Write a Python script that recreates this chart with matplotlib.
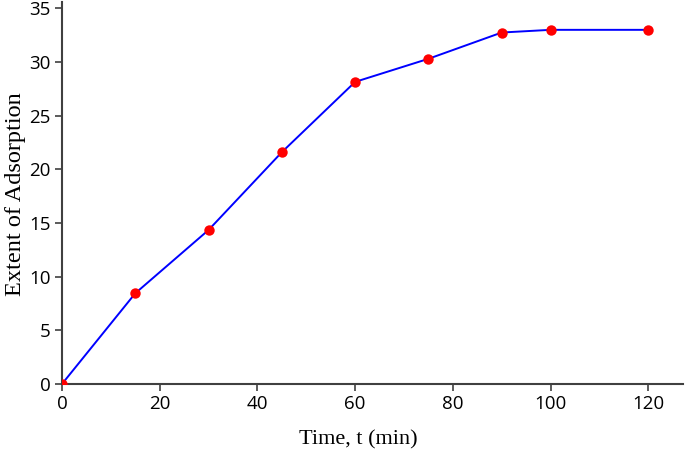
import matplotlib
matplotlib.use("Agg")
import matplotlib.pyplot as plt

# 数据
time_min = [0, 15, 30, 45, 60, 75, 90, 100, 120]
extent = [0, 8.45, 14.35, 21.6, 28.15, 30.3, 32.75, 33.0, 33.0]
x_ticks = [0, 20, 40, 60, 80, 100, 120]
y_ticks = [0, 5, 10, 15, 20, 25, 30, 35]

fig = plt.figure(figsize=(6.85, 4.5), dpi=100)
ax = fig.add_axes([0.0905, 0.1467, 0.9065, 0.849])

ax.plot(time_min, extent, color="#0000ff", linewidth=1.4, zorder=2)
ax.plot(time_min, extent, linestyle="none", marker="o", markersize=7.5,
        color="#ff0000", markeredgewidth=0, zorder=3)

ax.set_xlim(0, 127.1)
ax.set_ylim(0, 35.6)
ax.set_xticks(x_ticks)
ax.set_yticks(y_ticks)

for side in ["top", "right"]:
    ax.spines[side].set_visible(False)
for side in ["left", "bottom"]:
    ax.spines[side].set_color("#404040")
    ax.spines[side].set_linewidth(1.5)

ax.tick_params(direction="out", length=5, width=1.2, color="#404040",
               labelsize=13.5, pad=3)
for lbl in ax.get_xticklabels() + ax.get_yticklabels():
    lbl.set_family("Open Sans")

ax.set_xlabel("Time, t (min)", family="Liberation Serif", fontsize=16)
ax.set_ylabel("Extent of Adsorption", family="Liberation Serif", fontsize=17.5)
ax.xaxis.set_label_coords(0.477, -0.12)
ax.yaxis.set_label_coords(-0.058, 0.497)

fig.savefig("out.png", dpi=100)
